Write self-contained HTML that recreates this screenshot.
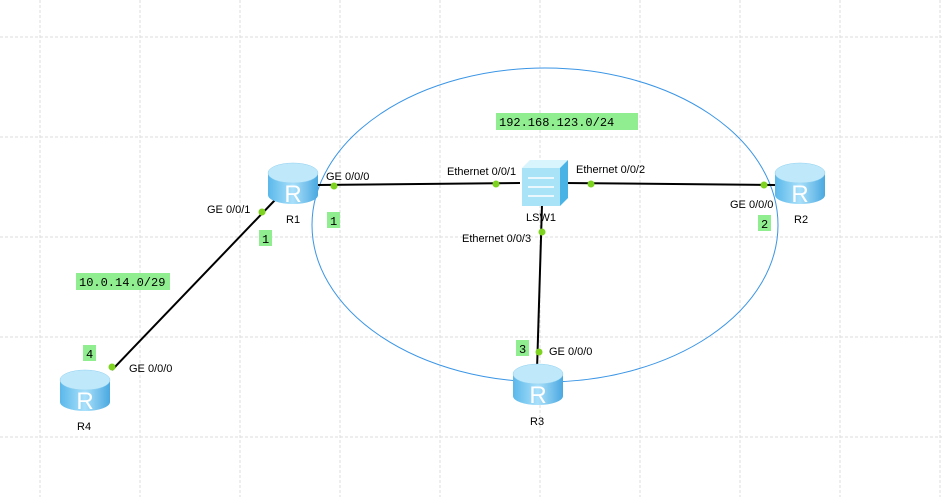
<!DOCTYPE html>
<html><head><style>
html,body{margin:0;padding:0;background:#fff;}
svg{display:block;}
text{font-family:"Liberation Sans",sans-serif;font-size:11px;fill:#000;}
.m{font-family:"Liberation Mono",monospace;font-size:12px;}
</style></head><body>
<svg width="942" height="497" viewBox="0 0 942 497">
<defs>
<linearGradient id="cyl" x1="0" x2="1" y1="0" y2="0">
<stop offset="0" stop-color="#5ab8ea"/><stop offset="0.5" stop-color="#a9e0fa"/><stop offset="1" stop-color="#4aa8e0"/>
</linearGradient>
<g id="rt">
<path d="M-25,-10 L-25,12 A25,9 0 0 0 25,12 L25,-10 Z" fill="url(#cyl)"/>
<ellipse cx="0" cy="-10" rx="25" ry="10" fill="#bfe9fb" stroke="#8fd0f0" stroke-width="0.5"/>
<text x="0" y="19" text-anchor="middle" style="font-size:24px;fill:#fff">R</text>
</g>
</defs>
<g stroke="#dcdcdc" stroke-width="1" stroke-dasharray="3,2">
<line x1="40" y1="0" x2="40" y2="497"/><line x1="140" y1="0" x2="140" y2="497"/><line x1="240" y1="0" x2="240" y2="497"/><line x1="340" y1="0" x2="340" y2="497"/><line x1="440" y1="0" x2="440" y2="497"/><line x1="540" y1="0" x2="540" y2="497"/><line x1="640" y1="0" x2="640" y2="497"/><line x1="740" y1="0" x2="740" y2="497"/><line x1="840" y1="0" x2="840" y2="497"/><line x1="940" y1="0" x2="940" y2="497"/>
<line x1="0" y1="37" x2="942" y2="37"/><line x1="0" y1="137" x2="942" y2="137"/><line x1="0" y1="237" x2="942" y2="237"/><line x1="0" y1="337" x2="942" y2="337"/><line x1="0" y1="437" x2="942" y2="437"/>
</g>
<ellipse cx="545" cy="225" rx="233" ry="157" fill="none" stroke="#3a95e6" stroke-width="1"/>
<g stroke="#000" stroke-width="2">
<line x1="318" y1="185" x2="520" y2="183"/>
<line x1="565" y1="183" x2="775" y2="185"/>
<line x1="542" y1="205" x2="537" y2="370"/>
<line x1="112" y1="370" x2="275" y2="200"/>
</g>
<g fill="#7ed321">
<circle cx="334" cy="186" r="3.5"/><circle cx="496" cy="184" r="3.5"/><circle cx="591" cy="184" r="3.5"/><circle cx="764" cy="185" r="3.5"/>
<circle cx="542" cy="232" r="3.5"/><circle cx="539" cy="352" r="3.5"/><circle cx="262" cy="212" r="3.5"/><circle cx="112" cy="367" r="3.5"/>
</g>
<use href="#rt" x="293" y="183"/>
<use href="#rt" x="800" y="183"/>
<use href="#rt" x="538" y="384"/>
<use href="#rt" x="85" y="390"/>
<g>
<path d="M522,168 L530,160 L568,160 L560,168 Z" fill="#d8f4fd"/>
<path d="M560,168 L568,160 L568,198 L560,206 Z" fill="#4ab3e6"/>
<rect x="522" y="168" width="38" height="38" fill="#a8e3f8"/>
<g stroke="#fff" stroke-width="1.5"><line x1="528" y1="178" x2="554" y2="178"/><line x1="528" y1="187" x2="554" y2="187"/><line x1="528" y1="196" x2="554" y2="196"/></g>
</g>
<g fill="#90ee90">
<rect x="496" y="113" width="142" height="17"/><rect x="76" y="273" width="94" height="17"/>
<rect x="327" y="212" width="13" height="16"/><rect x="259" y="230" width="13" height="16"/><rect x="758" y="215" width="13" height="16"/><rect x="516" y="340" width="13" height="16"/><rect x="83" y="345" width="13" height="16"/>
</g>
<text class="m" x="499" y="126">192.168.123.0/24</text>
<text class="m" x="79" y="286">10.0.14.0/29</text>
<text class="m" x="330" y="225">1</text><text class="m" x="262" y="243">1</text><text class="m" x="761" y="228">2</text><text class="m" x="519" y="353">3</text><text class="m" x="86" y="358">4</text>
<text x="326" y="180">GE 0/0/0</text>
<text x="447" y="175">Ethernet 0/0/1</text>
<text x="576" y="173">Ethernet 0/0/2</text>
<text x="462" y="242">Ethernet 0/0/3</text>
<text x="730" y="208">GE 0/0/0</text>
<text x="207" y="213">GE 0/0/1</text>
<text x="549" y="355">GE 0/0/0</text>
<text x="129" y="372">GE 0/0/0</text>
<text x="286" y="223">R1</text><text x="794" y="223">R2</text><text x="530" y="425">R3</text><text x="77" y="430">R4</text><text x="526" y="221">LSW1</text>
</svg>
</body></html>
